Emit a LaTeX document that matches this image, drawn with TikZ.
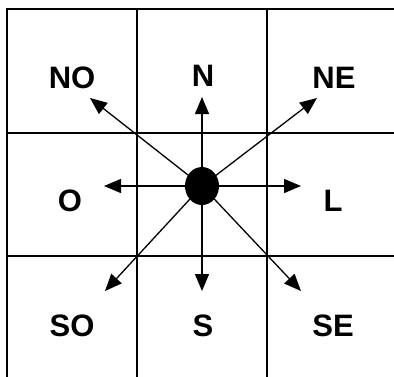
\documentclass[tikz,border=0pt]{standalone}
\usepackage{fontspec}
\setmainfont{Liberation Sans}
\usetikzlibrary{arrows.meta, shapes.geometric}

\tikzset{
  dir/.style={font=\bfseries\fontsize{31}{36}\selectfont,inner sep=0pt},
  ray/.style={->,line width=1.3pt}
}

\begin{document}
\begin{tikzpicture}[x=1pt,y=-1pt,>={Triangle[length=17pt,width=14pt]}]
  \useasboundingbox (0,0) rectangle (394,376);
  \clip (0,0) rectangle (394,376);
  % grid of cells
  \draw[line width=2pt] (7,9) rectangle (397,380);
  \draw[line width=1.3pt] (137,9) -- (137,380) (267,9) -- (267,380);
  \draw[line width=1.3pt] (7,133) -- (397,133) (7,256) -- (397,256);
  % labels
  \node[dir](NO) at (72,78){NO};
  \node[dir](N) at (203,76){N};
  \node[dir](NE) at (334,78){NE};
  \node[dir](O) at (70,201){O};
  \node[dir](L) at (333,201){L};
  \node[dir](SO) at (72,326){SO};
  \node[dir](S) at (203,326){S};
  \node[dir](SE) at (333,326){SE};
  % arrow tips
  \coordinate (tNO) at (90,98);
  \coordinate (tN) at (202,97);
  \coordinate (tNE) at (317,98);
  \coordinate (tO) at (104,186);
  \coordinate (tL) at (301,186);
  \coordinate (tSO) at (105,291);
  \coordinate (tS) at (202,291);
  \coordinate (tSE) at (301,291);
  % centre dot
  \node[ellipse,fill=black,minimum width=34pt,minimum height=38pt,inner sep=0pt](c) at (202,186){};
  \foreach \t in {tNO,tN,tNE,tO,tL,tSO,tS,tSE}
    \draw[ray] (c.center) -- (\t);
\end{tikzpicture}
\end{document}
